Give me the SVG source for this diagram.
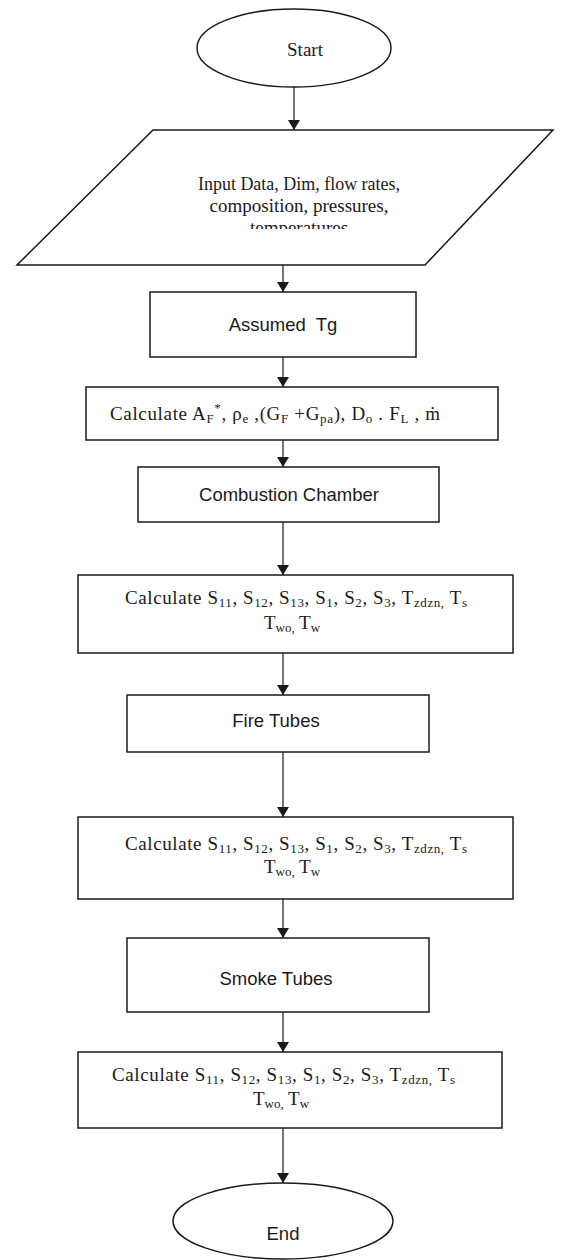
<svg xmlns="http://www.w3.org/2000/svg" width="561" height="1260" viewBox="0 0 561 1260">
<style>
.shape{fill:#fff;stroke:#1a1a1a;stroke-width:1.5}
.conn{stroke:#1a1a1a;stroke-width:1.2;fill:none}
.serif{font-family:"Liberation Serif","Times New Roman",serif;font-size:19px;fill:#1a1a1a}
.sans{font-family:"Liberation Sans",Arial,sans-serif;font-size:18.5px;fill:#1a1a1a}
.sub{font-size:13px}
</style>
<defs>
<marker id="arr" viewBox="0 0 10 12" refX="10" refY="6" markerWidth="10" markerHeight="12" markerUnits="userSpaceOnUse" orient="auto">
<path d="M0,0 L10,6 L0,12 z" fill="#1a1a1a"/>
</marker>
<clipPath id="clipTemp"><rect x="0" y="200" width="561" height="29"/></clipPath>
</defs>
<rect width="561" height="1260" fill="#fff"/>
<g id="connectors">
<line class="conn" x1="294" y1="87" x2="294" y2="130" marker-end="url(#arr)"/>
<line class="conn" x1="283" y1="265" x2="283" y2="292" marker-end="url(#arr)"/>
<line class="conn" x1="283" y1="357" x2="283" y2="387" marker-end="url(#arr)"/>
<line class="conn" x1="283" y1="440" x2="283" y2="467" marker-end="url(#arr)"/>
<line class="conn" x1="283" y1="522" x2="283" y2="575" marker-end="url(#arr)"/>
<line class="conn" x1="283" y1="653" x2="283" y2="695" marker-end="url(#arr)"/>
<line class="conn" x1="283" y1="752" x2="283" y2="817" marker-end="url(#arr)"/>
<line class="conn" x1="283" y1="899" x2="283" y2="938" marker-end="url(#arr)"/>
<line class="conn" x1="283" y1="1012" x2="283" y2="1052" marker-end="url(#arr)"/>
<line class="conn" x1="283" y1="1128" x2="283" y2="1183" marker-end="url(#arr)"/>
</g>
<g id="start">
<ellipse class="shape" cx="294" cy="48" rx="97" ry="39"/>
<text class="serif" x="305" y="56" text-anchor="middle" font-size="21">Start</text>
</g>
<g id="input">
<polygon class="shape" points="153,130 553,130 425,265 17,265"/>
<text class="serif" x="299" y="190" text-anchor="middle" font-size="18" textLength="202" lengthAdjust="spacingAndGlyphs">Input Data, Dim, flow rates,</text>
<text class="serif" x="299" y="212" text-anchor="middle" font-size="18">composition, pressures,</text>
<text class="serif" x="299" y="234" text-anchor="middle" font-size="18" clip-path="url(#clipTemp)">temperatures</text>
</g>
<g id="assumed">
<rect class="shape" x="150" y="292" width="266" height="65"/>
<text class="sans" x="283" y="331" text-anchor="middle" word-spacing="5">Assumed Tg</text>
</g>
<g id="calcA">
<rect class="shape" x="86" y="387" width="412" height="53"/>
<text class="serif" x="110" y="420" font-size="20" textLength="330" lengthAdjust="spacing">Calculate A<tspan class="sub" dy="3">F</tspan><tspan class="sub" dy="-11">*</tspan><tspan dy="8">,  ρ</tspan><tspan class="sub" dy="3">e</tspan><tspan dy="-3"> ,(G</tspan><tspan class="sub" dy="3">F</tspan><tspan dy="-3"> +G</tspan><tspan class="sub" dy="3">pa</tspan><tspan dy="-3">), D</tspan><tspan class="sub" dy="3">o</tspan><tspan dy="-3"> .  F</tspan><tspan class="sub" dy="3">L</tspan><tspan dy="-3"> , ṁ</tspan></text>
</g>
<g id="combustion">
<rect class="shape" x="138" y="467" width="301" height="55"/>
<text class="sans" x="289" y="501" text-anchor="middle">Combustion Chamber</text>
</g>
<g id="calcS1">
<rect class="shape" x="78" y="575" width="435" height="78"/>
<text class="serif" x="125" y="604" textLength="342" lengthAdjust="spacing">Calculate S<tspan class="sub" dy="3">11</tspan><tspan dy="-3">, S</tspan><tspan class="sub" dy="3">12</tspan><tspan dy="-3">, S</tspan><tspan class="sub" dy="3">13</tspan><tspan dy="-3">, S</tspan><tspan class="sub" dy="3">1</tspan><tspan dy="-3">, S</tspan><tspan class="sub" dy="3">2</tspan><tspan dy="-3">, S</tspan><tspan class="sub" dy="3">3</tspan><tspan dy="-3">, T</tspan><tspan class="sub" dy="3">zdzn,</tspan><tspan dy="-3"> T</tspan><tspan class="sub" dy="3">s</tspan></text>
<text class="serif" x="292" y="629" text-anchor="middle">T<tspan class="sub" dy="3">wo,</tspan><tspan dy="-3"> T</tspan><tspan class="sub" dy="3">w</tspan></text>
</g>
<g id="fire">
<rect class="shape" x="127" y="695" width="302" height="57"/>
<text class="sans" x="276" y="727" text-anchor="middle">Fire Tubes</text>
</g>
<g id="calcS2">
<rect class="shape" x="78" y="817" width="435" height="82"/>
<text class="serif" x="125" y="850" textLength="342" lengthAdjust="spacing">Calculate S<tspan class="sub" dy="3">11</tspan><tspan dy="-3">, S</tspan><tspan class="sub" dy="3">12</tspan><tspan dy="-3">, S</tspan><tspan class="sub" dy="3">13</tspan><tspan dy="-3">, S</tspan><tspan class="sub" dy="3">1</tspan><tspan dy="-3">, S</tspan><tspan class="sub" dy="3">2</tspan><tspan dy="-3">, S</tspan><tspan class="sub" dy="3">3</tspan><tspan dy="-3">, T</tspan><tspan class="sub" dy="3">zdzn,</tspan><tspan dy="-3"> T</tspan><tspan class="sub" dy="3">s</tspan></text>
<text class="serif" x="292" y="873" text-anchor="middle">T<tspan class="sub" dy="3">wo,</tspan><tspan dy="-3"> T</tspan><tspan class="sub" dy="3">w</tspan></text>
</g>
<g id="smoke">
<rect class="shape" x="127" y="938" width="302" height="74"/>
<text class="sans" x="276" y="985" text-anchor="middle">Smoke Tubes</text>
</g>
<g id="calcS3">
<rect class="shape" x="78" y="1052" width="424" height="76"/>
<text class="serif" x="112" y="1081" textLength="343" lengthAdjust="spacing">Calculate S<tspan class="sub" dy="3">11</tspan><tspan dy="-3">, S</tspan><tspan class="sub" dy="3">12</tspan><tspan dy="-3">, S</tspan><tspan class="sub" dy="3">13</tspan><tspan dy="-3">, S</tspan><tspan class="sub" dy="3">1</tspan><tspan dy="-3">, S</tspan><tspan class="sub" dy="3">2</tspan><tspan dy="-3">, S</tspan><tspan class="sub" dy="3">3</tspan><tspan dy="-3">, T</tspan><tspan class="sub" dy="3">zdzn,</tspan><tspan dy="-3"> T</tspan><tspan class="sub" dy="3">s</tspan></text>
<text class="serif" x="281" y="1105" text-anchor="middle">T<tspan class="sub" dy="3">wo,</tspan><tspan dy="-3"> T</tspan><tspan class="sub" dy="3">w</tspan></text>
</g>
<g id="end">
<ellipse class="shape" cx="283" cy="1221" rx="110" ry="38"/>
<text class="sans" x="283" y="1240" text-anchor="middle" font-size="20">End</text>
</g>
</svg>
